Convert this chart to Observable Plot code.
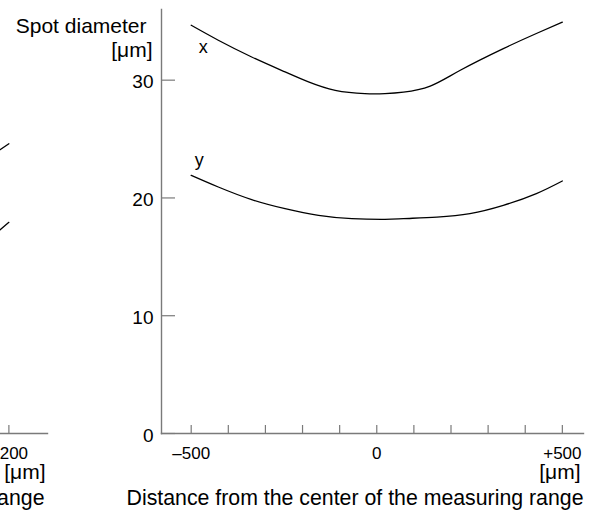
<!DOCTYPE html>
<html><head><meta charset="utf-8">
<script src="https://cdn.jsdelivr.net/npm/d3@7"></script>
<script src="https://cdn.jsdelivr.net/npm/@observablehq/plot@0.6"></script>
<style>
body{margin:0;background:#fff;}
#wrap{position:relative;width:596px;height:513px;overflow:hidden;background:#fff;}
#wrap svg{position:absolute;top:0;}
</style></head><body><div id="wrap"></div>
<script>
// ---- data (main panel) ----
const seriesNames = ["x", "y"];
const xSeriesPositions = [-500, -427, -337, -247, -184, -112, -32, 22, 72, 144, 225, 341, 430, 500];
const xSeriesValues    = [34.66, 33.39, 31.97, 30.70, 29.85, 29.14, 28.86, 28.86, 28.98, 29.5, 30.84, 32.68, 33.96, 34.92];
const ySeriesPositions = [-500, -427, -337, -247, -157, -67, 22, 72, 162, 251, 341, 430, 500];
const ySeriesValues    = [21.92, 20.93, 19.86, 19.09, 18.52, 18.24, 18.18, 18.24, 18.38, 18.67, 19.37, 20.37, 21.44];
const xDomain = [-580, 557];
const yDomain = [0, 36];
const xTicks = [-500, -400, -300, -200, -100, 0, 100, 200, 300, 400, 500];
const xTickLabelValues = [-500, 0, 500];
const xTickLabels = ["–500", "0", "+500"];
const yTicks = [0, 10, 20, 30];
const yAxisTitle = "Spot diameter";
const yUnit = "[μm]";
const xUnit = "[μm]";
const xAxisTitle = "Distance from the center of the measuring range";
// ---- data (neighbouring panel, only its right edge is visible) ----
const leftPositions = [170, 200];
const leftUpperValues = [23.96, 24.6];
const leftLowerValues = [17.13, 17.93];
const leftDomain = [-504, 304];
const leftTickValues = [200];
const leftTickLabels = ["+200"];

const rows = [
  ...xSeriesPositions.map((p, i) => ({series: seriesNames[0], pos: p, value: xSeriesValues[i]})),
  ...ySeriesPositions.map((p, i) => ({series: seriesNames[1], pos: p, value: ySeriesValues[i]}))
];
const leftRows = [
  ...leftPositions.map((p, i) => ({series: "a", pos: p, value: leftUpperValues[i]})),
  ...leftPositions.map((p, i) => ({series: "b", pos: p, value: leftLowerValues[i]}))
];

const AX = "#7a7a7a";
const FONT = "'Liberation Sans', Arial, Helvetica, sans-serif";
const baseStyle = {fontFamily: FONT, fontSize: "17px", color: "#000", background: "transparent", overflow: "visible"};

const left = Plot.plot({
  width: 300, height: 513, marginLeft: 0, marginRight: 0, marginTop: 9, marginBottom: 80,
  x: {domain: leftDomain}, y: {domain: yDomain, axis: null},
  style: baseStyle,
  marks: [
    Plot.frame({anchor: "bottom", stroke: AX, strokeWidth: 1.4}),
    Plot.axisX({ticks: leftTickValues, tickSize: -8, text: null, label: null, stroke: AX, strokeWidth: 1.2}),
    Plot.axisX({ticks: leftTickValues, tickSize: 0, tickPadding: 13, label: null, fill: "#000",
      tickFormat: d => leftTickLabels[leftTickValues.indexOf(d)]}),
    Plot.line(leftRows, {x: "pos", y: "value", z: "series", stroke: "#000", strokeWidth: 1.3}),
    Plot.text([xUnit], {frameAnchor: "bottom-right", text: d => d, textAnchor: "end", lineAnchor: "bottom", dx: -2, dy: 45, fontSize: 21, fill: "#000"}),
    Plot.text([xAxisTitle], {frameAnchor: "bottom-right", text: d => d, textAnchor: "end", lineAnchor: "bottom", dx: -3, dy: 71, fontSize: 21.3, fill: "#000"})
  ]
});
left.style.left = "-253px";

const main = Plot.plot({
  width: 596, height: 513, marginLeft: 161, marginRight: 13, marginTop: 9, marginBottom: 80,
  x: {domain: xDomain}, y: {domain: yDomain},
  style: baseStyle,
  marks: [
    Plot.frame({anchor: "left", stroke: AX, strokeWidth: 1.4}),
    Plot.frame({anchor: "bottom", stroke: AX, strokeWidth: 1.4}),
    Plot.axisX({ticks: xTicks, tickSize: -8, text: null, label: null, stroke: AX, strokeWidth: 1.2}),
    Plot.axisX({ticks: xTickLabelValues, tickSize: 0, tickPadding: 13, label: null, fill: "#000",
      tickFormat: d => xTickLabels[xTickLabelValues.indexOf(d)]}),
    Plot.axisY({ticks: yTicks, tickSize: -14, text: null, label: null, stroke: AX, strokeWidth: 1.2}),
    Plot.axisY({ticks: yTicks, tickSize: 0, tickPadding: 8, label: null, fill: "#000", dy: 2, fontSize: 19}),
    Plot.line(rows, {x: "pos", y: "value", z: "series", curve: "natural", stroke: "#000", strokeWidth: 1.3}),
    Plot.text(rows.filter(d => d.series === seriesNames[0]).slice(0, 1),
      {x: "pos", y: "value", text: "series", dx: 12, dy: 22, fontSize: 18, fill: "#000"}),
    Plot.text(rows.filter(d => d.series === seriesNames[1]).slice(0, 1),
      {x: "pos", y: "value", text: "series", dx: 8, dy: -15, fontSize: 18, fill: "#000"}),
    Plot.text([yAxisTitle], {frameAnchor: "top-left", text: d => d, textAnchor: "end", lineAnchor: "bottom", dx: -15, dy: 23, fontSize: 21, fill: "#000"}),
    Plot.text([yUnit], {frameAnchor: "top-left", text: d => d, textAnchor: "end", lineAnchor: "bottom", dx: -9, dy: 47, fontSize: 21, fill: "#000"}),
    Plot.text([xUnit], {frameAnchor: "bottom-right", text: d => d, textAnchor: "end", lineAnchor: "bottom", dx: -3, dy: 45, fontSize: 21, fill: "#000"}),
    Plot.text([xAxisTitle], {frameAnchor: "bottom-right", text: d => d, textAnchor: "end", lineAnchor: "bottom", dx: 0, dy: 71, fontSize: 21.3, fill: "#000"})
  ]
});
main.style.left = "0px";

const wrap = document.getElementById("wrap");
wrap.appendChild(left);
wrap.appendChild(main);
</script></body></html>
